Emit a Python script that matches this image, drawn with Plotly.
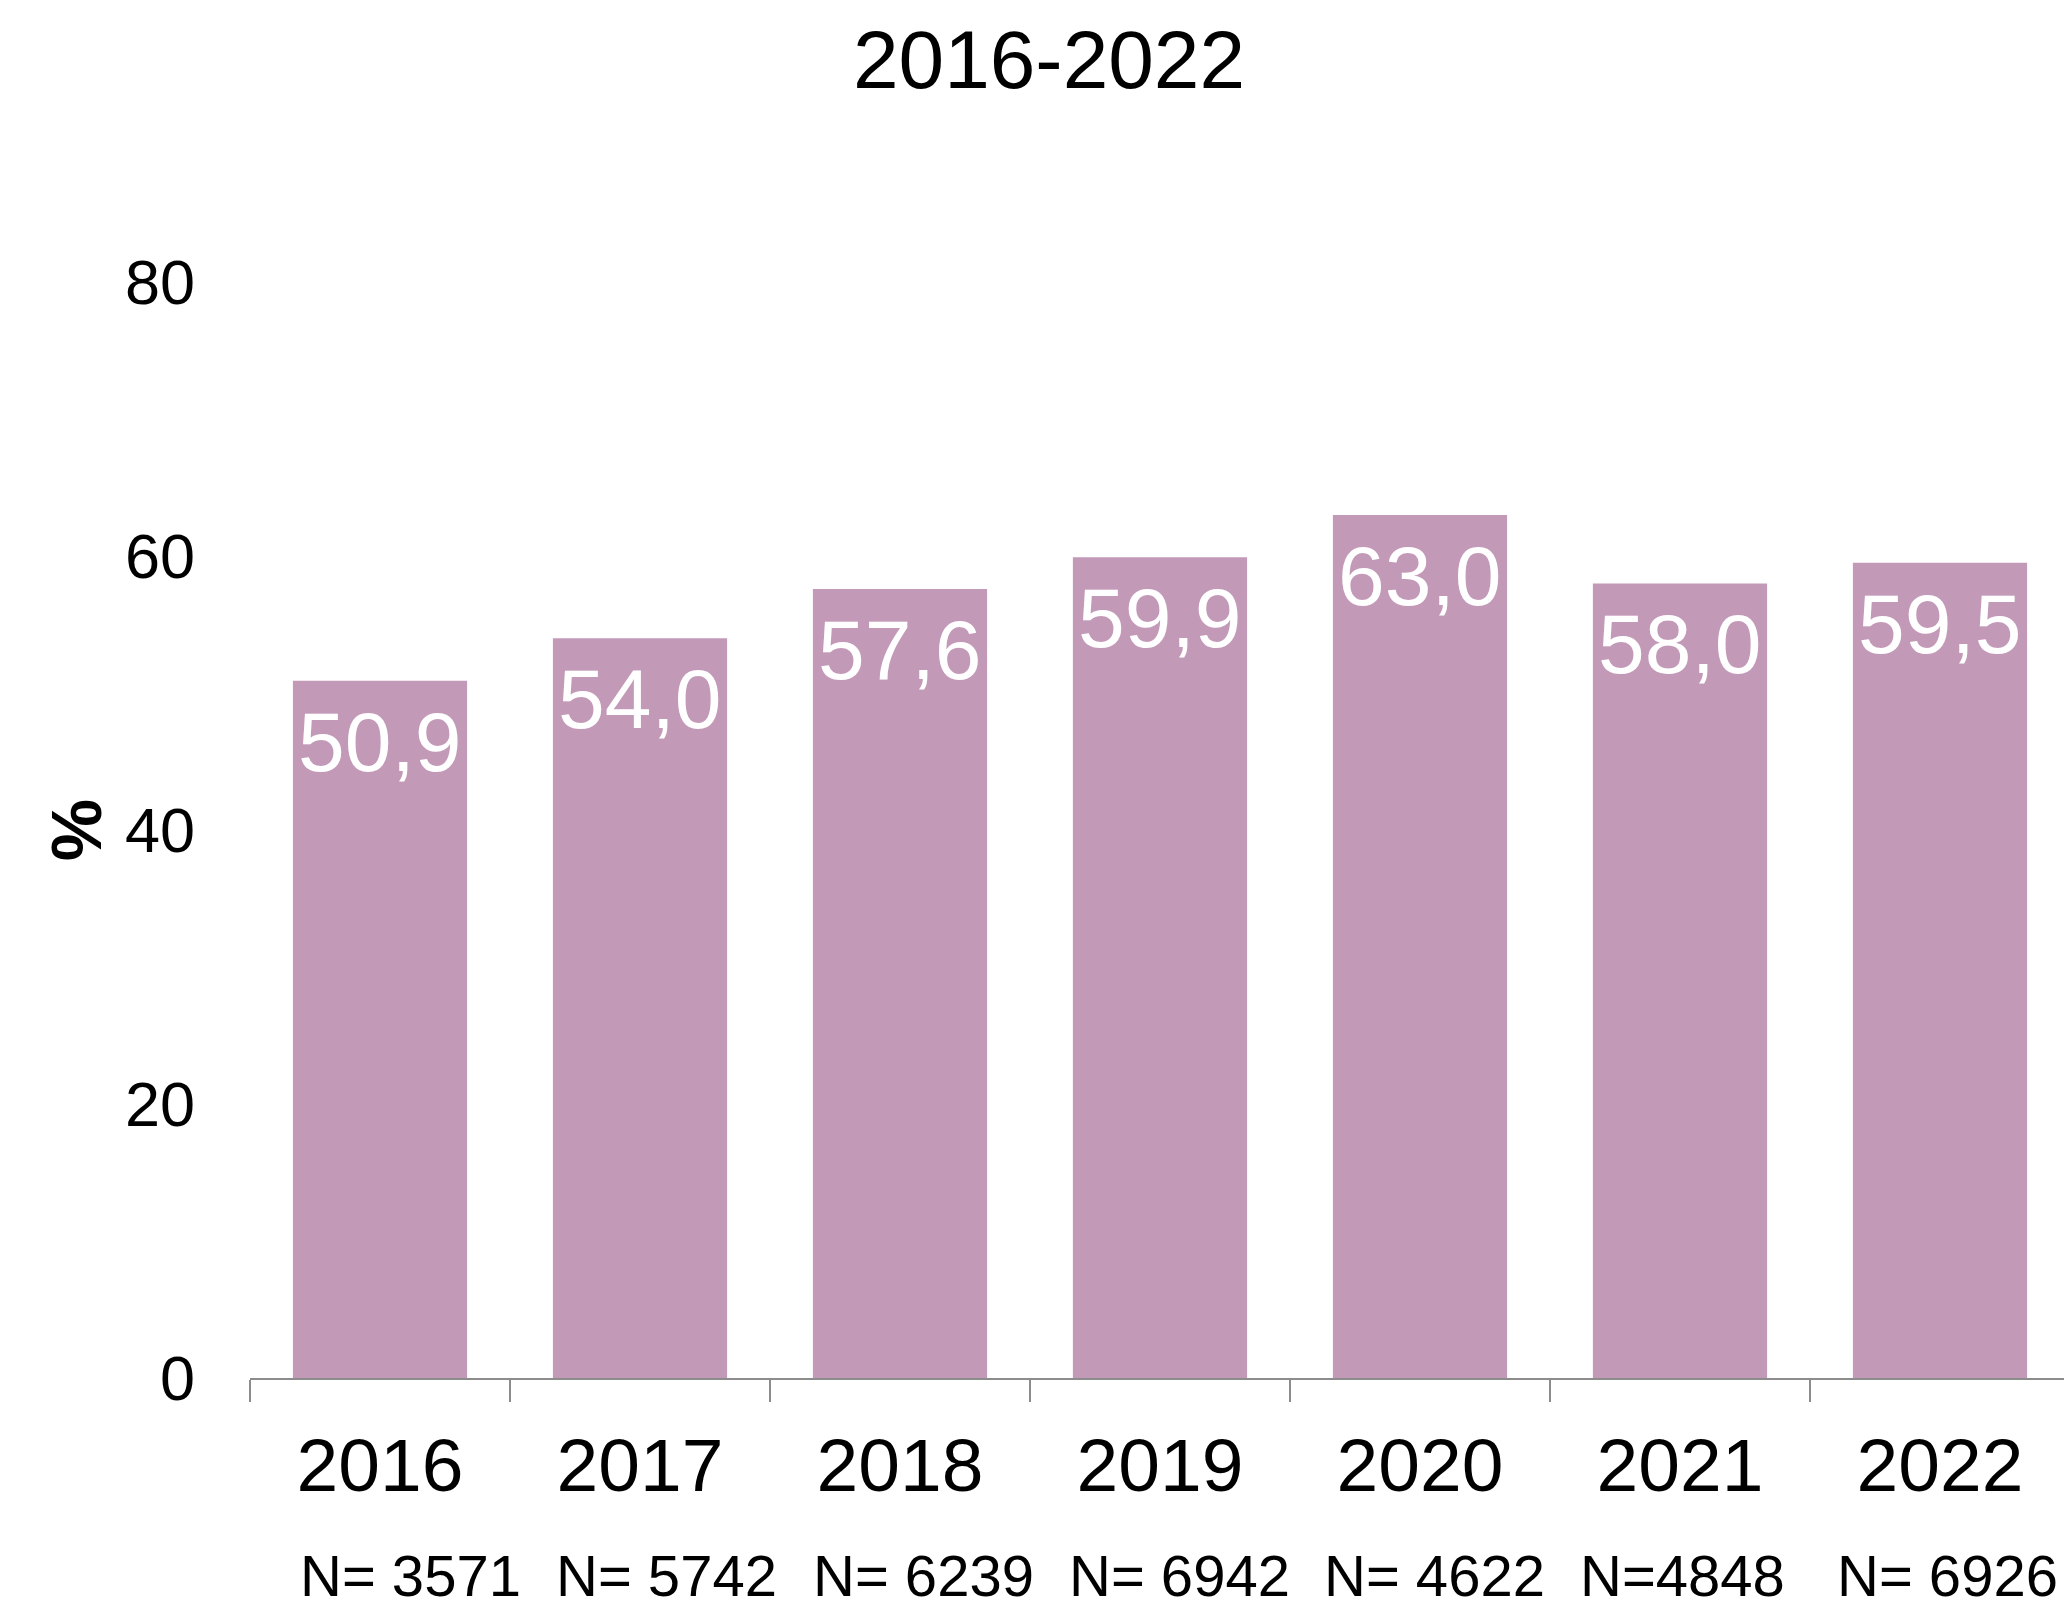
import plotly.graph_objects as go

years = ["2016", "2017", "2018", "2019", "2020", "2021", "2022"]
values = [50.9, 54.0, 57.6, 59.9, 63.0, 58.0, 59.5]
value_labels = ["50,9", "54,0", "57,6", "59,9", "63,0", "58,0", "59,5"]
n_labels = ["N= 3571", "N= 5742", "N= 6239", "N= 6942", "N= 4622", "N=4848", "N= 6926"]
y_ticks = [0, 20, 40, 60, 80]
title_text = "2016-2022"
y_title = "%"

# layout: horizontal nudges (px) of the sample-size labels, as placed in the original
n_label_xshift = [30, 26, 24, 20, 15, 3, 8]

FONT = "Liberation Sans, Arial, sans-serif"
BAR = "#C399B8"
GRAY = "#8C8C8C"

idx = list(range(len(years)))

fig = go.Figure()
fig.add_trace(go.Bar(
    x=idx, y=values, width=0.67,
    marker=dict(color=BAR, line=dict(width=0)),
    hoverinfo="skip",
))

for i, v, lab in zip(idx, values, value_labels):
    fig.add_annotation(x=i, xref="x", y=v, yref="y", text=lab, showarrow=False,
                       yanchor="top", xanchor="center", yshift=-12,
                       font=dict(family=FONT, size=84, color="white"))

for i, n, dx in zip(idx, n_labels, n_label_xshift):
    fig.add_annotation(x=i, xref="x", y=-0.18, yref="paper", text=n,
                       showarrow=False, yanchor="middle", xanchor="center",
                       xshift=dx,
                       font=dict(family=FONT, size=58, color="black"))

fig.update_layout(
    width=2064, height=1612,
    margin=dict(l=250, r=0, t=282, b=234),
    paper_bgcolor="white", plot_bgcolor="white",
    showlegend=False,
    title=dict(text=title_text, x=1049/2064, xref="container", xanchor="center",
               y=1-59/1612, yref="container", yanchor="middle",
               font=dict(family=FONT, size=82, color="black")),
    xaxis=dict(range=[-0.5, 6.477], showline=True,
               tickmode="array", tickvals=idx, ticktext=years,
               linecolor=GRAY, linewidth=2, ticks="", showgrid=False,
               zeroline=False,
               tickfont=dict(family=FONT, size=75, color="black"),
               ticklabelstandoff=21),
    yaxis=dict(range=[0, 80], tickvals=y_ticks, showline=False, showgrid=False,
               zeroline=False, ticks="", ticklabelstandoff=54,
               tickfont=dict(family=FONT, size=63, color="black"),
               title=dict(text="<b>" + y_title + "</b>", standoff=0,
                          font=dict(family=FONT, size=70, color="black"))),
)

boundaries = [i - 0.5 for i in idx] + [idx[-1] + 0.5]
fig.update_xaxes(minor=dict(tickmode="array", tickvals=boundaries, ticks="outside",
                            ticklen=22, tickwidth=2, tickcolor=GRAY, showgrid=False))

fig.write_html("out.html")
